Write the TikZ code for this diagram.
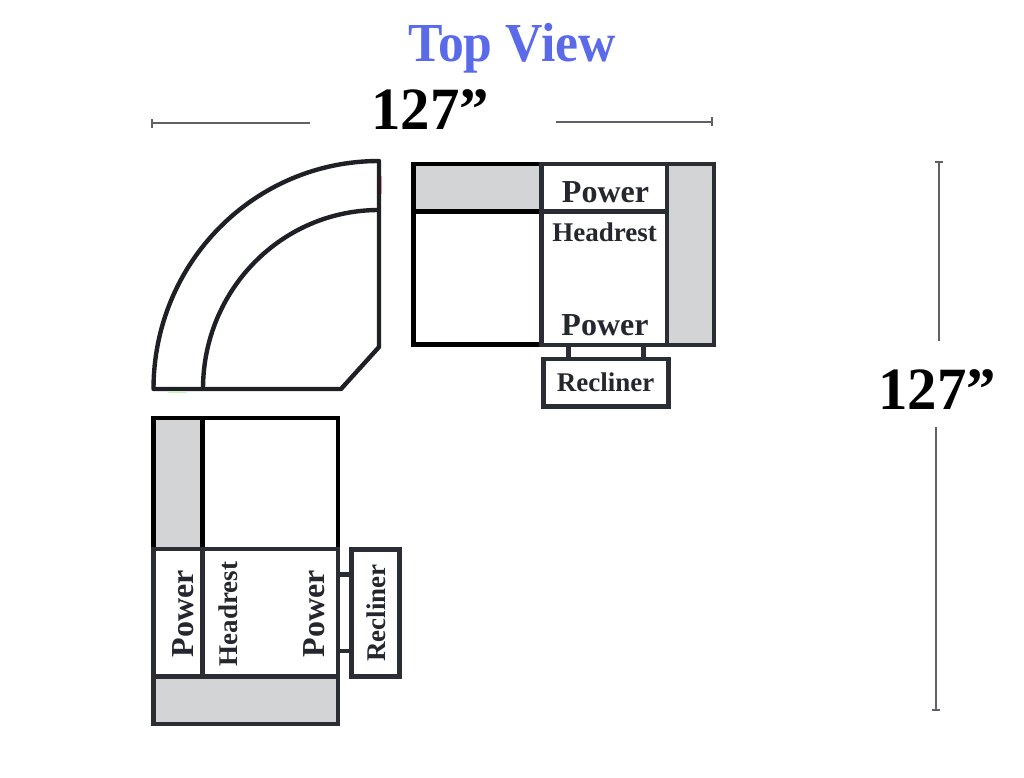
\documentclass[tikz,border=0pt]{standalone}
\usepackage{fontspec}
\setmainfont{Liberation Serif}
\definecolor{seatdark}{HTML}{2B2D35}
\definecolor{seattext}{HTML}{25272E}
\definecolor{padgray}{HTML}{D3D4D6}
\definecolor{dimgray}{HTML}{5F6068}
\definecolor{titleblue}{HTML}{5A6AE8}
\tikzset{
every node/.style={inner sep=0pt,anchor=base},
seat/.style={draw=seatdark,line width=4.6pt,line join=miter},
blackseat/.style={draw=black,line width=4.8pt},
curve/.style={draw=seatdark!70!black,line width=4.4pt,line join=round},
pad/.style={fill=padgray},
dimline/.style={draw=dimgray,line width=2pt},
word/.style={text=seattext,font=\bfseries\fontsize{32}{32}\selectfont},
smallword/.style={text=seattext,font=\bfseries\fontsize{27}{27}\selectfont},
size/.style={text=black,font=\bfseries\fontsize{60}{60}\selectfont,xscale=0.98}
}
\begin{document}
\begin{tikzpicture}[x=1pt,y=-1pt]
\useasboundingbox (0,0) rectangle (1024,778);
% corner piece
\coordinate (c1) at (153.5,389);
\coordinate (c2) at (379,161);
\coordinate (c3) at (379,347);
\coordinate (c4) at (341,389);
\coordinate (c5) at (203,389);
\coordinate (c6) at (379,210);
\path[curve] (c1) .. controls (153.5,263) and (254,161) .. (c2) -- (c3) -- (c4) -- cycle;
\path[curve] (c5) .. controls (203,290) and (281.6,210) .. (c6);
\path[draw=red!45,line width=1pt] (381.8,176)--(381.8,194);
\path[draw=green!30,line width=1pt] (168,392)--(187,392);
% right piece
\path[pad] (414,164) rectangle (541,211);
\path[pad] (667,164) rectangle (714,345);
\path[blackseat] (541.3,164)--(413.5,164)--(413.5,344.8)--(541.3,344.8);
\path[blackseat] (413.5,211.5)--(541.3,211.5);
\path[seat] (541.3,164) rectangle (714,344.8);
\path[seat] (541.3,211.5)--(667,211.5);
\path[seat] (667,164)--(667,344.8);
\path[seat] (543.3,358.8) rectangle (668.7,406.2);
\path[seat] (568.5,347)--(568.5,357);
\path[seat] (643.3,347)--(643.3,357);
\node[word] (p1) at (605.5,202) {Power};
\node[smallword] (h1) at (604.5,241.7) {Headrest};
\node[word] (p2) at (605,335) {Power};
\node[smallword] (r1) at (605.5,391.7) {Recliner};
% lower piece
\path[pad] (154,418) rectangle (202,549);
\path[pad] (154,676) rectangle (338,724);
\path[blackseat] (153.7,549)--(153.7,418)--(338,418)--(338,549);
\path[blackseat] (202.5,418)--(202.5,549);
\path[seat] (153.7,549) rectangle (338,724);
\path[seat] (202.5,549)--(202.5,676.7);
\path[seat] (153.7,676.7)--(338,676.7);
\path[seat] (351.7,549.7) rectangle (399.5,676.7);
\path[seat] (340,574.5)--(350,574.5);
\path[seat] (340,650.8)--(350,650.8);
\node[word,rotate=90] (p3) at (193.5,614) {Power};
\node[smallword,rotate=90] (h2) at (237.7,614) {Headrest};
\node[word,rotate=90] (p4) at (324.5,614) {Power};
\node[smallword,rotate=90] (r2) at (385,613) {Recliner};
% dimensions
\path[dimline] (151.5,123.3)--(310,123.3);
\path[dimline] (151.5,119)--(151.5,128);
\path[dimline] (556,121.7)--(711.7,121.7);
\path[dimline] (711.7,117.5)--(711.7,126);
\path[dimline] (939,162)--(939,341);
\path[dimline] (935,162.5)--(943,162.5);
\path[dimline] (936,427)--(936,709);
\path[dimline] (932,709.5)--(940,709.5);
\node[text=titleblue,font=\bfseries\fontsize{55}{55}\selectfont,xscale=0.94] (t) at (512,61.7) {Top View};
\node[size] (s1) at (430,130) {127”};
\node[size] (s2) at (937,409.3) {127”};
\end{tikzpicture}
\end{document}
